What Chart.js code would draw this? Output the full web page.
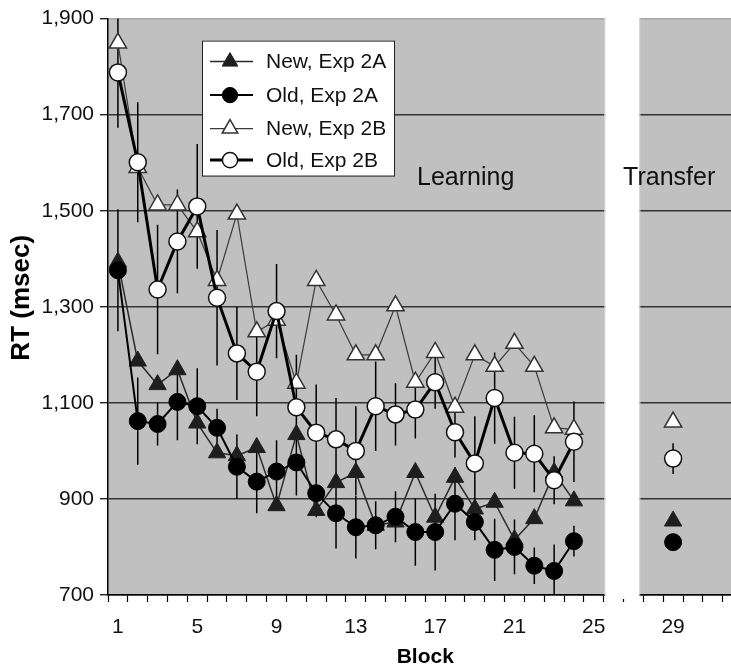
<!DOCTYPE html>
<html><head><meta charset="utf-8">
<script src="https://cdn.jsdelivr.net/npm/chart.js@4/dist/chart.umd.min.js"></script>
<style>
html,body{margin:0;padding:0;background:#fff;overflow:hidden;}
#wrap{width:754px;height:670px;position:relative;}
canvas{display:block;}
</style></head><body>
<div id="wrap"><canvas id="c" width="754" height="670"></canvas></div>
<script>
const blocks = ['1','2','3','4','5','6','7','8','9','10','11','12','13','14','15','16','17','18','19','20','21','22','23','24','25','26','27','28','29','30','31','32'];
const shownTicks = ['1','5','9','13','17','21','25','29'];
const yTicks = [700, 900, 1100, 1300, 1500, 1700, 1900];

const newExp2A = [1393,1187,1138,1169,1058,996,990,1007,886,1034,876,934,955,845,852,955,862,945,879,893,815,859,955,896, null,null,null,null, 854, null,null,null];
const oldExp2A = [1376,1062,1056,1102,1093,1048,967,936,957,976,912,870,841,845,863,831,831,890,852,794,800,761,750,812, null,null,null,null, 810, null,null,null];
const newExp2B = [1849,1590,1512,1512,1456,1355,1493,1248,1272,1141,1355,1283,1200,1200,1302,1143,1205,1091,1200,1176,1224,1176,1048,1045, null,null,null,null, 1060, null,null,null];
const oldExp2B = [1788,1601,1336,1436,1509,1319,1203,1165,1291,1091,1038,1024,1000,1093,1076,1086,1143,1039,974,1110,996,994,939,1019, null,null,null,null, 984, null,null,null];

const errOldExp2A = [127,91,45,80,79,40,67,66,65,69,50,73,65,50,53,70,80,76,38,65,57,38,55,32, 0,0,0,0, 12, 0,0,0];
const errOldExp2B = [115,125,135,108,130,141,97,93,98,109,100,86,93,93,65,60,55,53,98,95,75,80,50,84, 0,0,0,0, 32, 0,0,0];

const FONT = '"Liberation Sans", Arial, Helvetica, sans-serif';

const panelPlugin = {
  id: 'panels',
  beforeDraw(chart) {
    const {ctx, chartArea: a} = chart;
    ctx.save();
    ctx.fillStyle = '#c0c0c0';
    ctx.fillRect(a.left, a.top, a.right - a.left, a.bottom - a.top);
    ctx.restore();
  },
  beforeDatasetsDraw(chart) {
    const {ctx, chartArea: a, scales: {x, y}} = chart;
    const w = x.getPixelForValue(1) - x.getPixelForValue(0);
    const g1 = x.getPixelForValue(24) + w / 2 + 1.5;
    const g2 = x.getPixelForValue(26) + w / 2 - 4;
    ctx.save();
    ctx.fillStyle = '#fff';
    ctx.fillRect(g1, a.top - 2, g2 - g1, a.bottom - a.top + 6);
    ctx.strokeStyle = '#d6d6d6';
    ctx.lineWidth = 1;
    ctx.beginPath();
    ctx.moveTo(g1 - 0.5, a.top); ctx.lineTo(g1 - 0.5, a.bottom);
    ctx.moveTo(g2 + 0.5, a.top); ctx.lineTo(g2 + 0.5, a.bottom);
    ctx.stroke();
    // error bars (behind markers)
    ctx.strokeStyle = '#000';
    ctx.lineWidth = 1.5;
    ctx.beginPath();
    ctx.rect(a.left, a.top, a.right - a.left, a.bottom - a.top);
    ctx.clip();
    const sets = [[oldExp2A, errOldExp2A], [oldExp2B, errOldExp2B]];
    ctx.beginPath();
    sets.forEach(([vals, errs]) => {
      vals.forEach((v, i) => {
        if (v === null || !errs[i]) return;
        const px = x.getPixelForValue(i);
        ctx.moveTo(px, y.getPixelForValue(v + errs[i]));
        ctx.lineTo(px, y.getPixelForValue(v - errs[i]));
      });
    });
    ctx.stroke();
    ctx.restore();
  },
  afterDraw(chart) {
    const {ctx, chartArea: a, scales: {x, y}} = chart;
    ctx.save();
    // y axis title
    ctx.save();
    ctx.translate(a.left - 86, (a.top + a.bottom) / 2 - 9);
    ctx.rotate(-Math.PI / 2);
    ctx.fillStyle = '#000';
    ctx.font = 'bold 26px ' + FONT;
    ctx.textAlign = 'center';
    ctx.textBaseline = 'middle';
    ctx.fillText('RT (msec)', 0, 0);
    ctx.restore();
    // panel labels
    ctx.fillStyle = '#111';
    ctx.font = '25px ' + FONT;
    ctx.textAlign = 'center';
    ctx.textBaseline = 'alphabetic';
    ctx.fillText('Learning', x.getPixelForValue(17.54), y.getPixelForValue(1553));
    ctx.fillText('Transfer', x.getPixelForValue(27.8), y.getPixelForValue(1553));
    // legend
    const lx = a.left + 94, ly = a.top + 22, lw = 192, lh = 135;
    ctx.fillStyle = '#fff';
    ctx.fillRect(lx, ly, lw, lh);
    ctx.strokeStyle = '#222';
    ctx.lineWidth = 1;
    ctx.strokeRect(lx + 0.5, ly + 0.5, lw, lh);
    const rows = [21, 54.5, 88, 119.5];
    chart.data.datasets.forEach((ds, i) => {
      const cy = ly + rows[i];
      ctx.strokeStyle = ds.borderColor;
      ctx.lineWidth = ds.borderWidth;
      ctx.beginPath();
      ctx.moveTo(lx + 8, cy); ctx.lineTo(lx + 51, cy);
      ctx.stroke();
      ctx.fillStyle = ds.pointBackgroundColor;
      ctx.strokeStyle = ds.pointBorderColor;
      ctx.lineWidth = ds.pointBorderWidth;
      Chart.helpers.drawPoint(ctx, {pointStyle: ds.pointStyle, radius: ds.pointRadius * 0.9, borderWidth: ds.pointBorderWidth, rotation: 0}, lx + 28, cy);
      ctx.fillStyle = '#111';
      ctx.font = '21px ' + FONT;
      ctx.textAlign = 'left';
      ctx.textBaseline = 'middle';
      ctx.fillText(ds.label, lx + 64, cy + 1);
    });
    ctx.restore();
  }
};

new Chart(document.getElementById('c'), {
  type: 'line',
  data: {
    labels: blocks,
    datasets: [
      {label: 'New, Exp 2A', data: newExp2A, borderColor: '#2a2a2a', borderWidth: 1.5, pointStyle: 'triangle', pointRadius: 10, pointBackgroundColor: '#1e1e1e', pointBorderColor: '#1e1e1e', pointBorderWidth: 1, order: 4},
      {label: 'Old, Exp 2A', data: oldExp2A, borderColor: '#000', borderWidth: 2, pointStyle: 'circle', pointRadius: 8.5, pointBackgroundColor: '#000', pointBorderColor: '#000', pointBorderWidth: 1, order: 3},
      {label: 'New, Exp 2B', data: newExp2B, borderColor: '#3a3a3a', borderWidth: 1.2, pointStyle: 'triangle', pointRadius: 10, pointBackgroundColor: '#fff', pointBorderColor: '#333', pointBorderWidth: 1.5, order: 2},
      {label: 'Old, Exp 2B', data: oldExp2B, borderColor: '#000', borderWidth: 3, pointStyle: 'circle', pointRadius: 8.5, pointBackgroundColor: '#fff', pointBorderColor: '#111', pointBorderWidth: 1.5, order: 1}
    ]
  },
  options: {
    responsive: false,
    maintainAspectRatio: false,
    animation: false,
    devicePixelRatio: 1,
    layout: {padding: {top: 15, right: 4, left: 0, bottom: 0}},
    plugins: {legend: {display: false}, tooltip: {enabled: false}},
    elements: {line: {tension: 0}},
    scales: {
      x: {
        type: 'category',
        offset: true,
        grid: {offset: true, drawOnChartArea: false, drawTicks: true, tickLength: 7, tickColor: '#000', tickWidth: 1.2},
        border: {color: '#000', width: 1.5},
        ticks: {autoSkip: false, maxRotation: 0, minRotation: 0, padding: 13, color: '#111', font: {family: FONT, size: 21},
          callback: (v, i) => shownTicks.includes(blocks[i]) ? blocks[i] : ''},
        title: {display: true, text: 'Block', color: '#000', font: {family: FONT, size: 21, weight: 'bold'}, padding: 0},
        afterFit: s => { s.height = 75; }
      },
      y: {
        min: 700, max: 1900,
        afterBuildTicks: s => { s.ticks = yTicks.map(v => ({value: v})); },
        ticks: {padding: 6, color: '#111', font: {family: FONT, size: 21},
          callback: v => Number(v).toLocaleString('en-US')},
        grid: {color: c => (c.tick && c.tick.value === 1900) ? '#a8a8a8' : '#333', lineWidth: 1.5, tickLength: 8, tickColor: '#000', tickWidth: 1.2},
        border: {color: '#000', width: 1.5},
        title: {display: false},
        afterFit: s => { s.width = 108; }
      }
    }
  },
  plugins: [panelPlugin]
});
</script>
</body></html>
